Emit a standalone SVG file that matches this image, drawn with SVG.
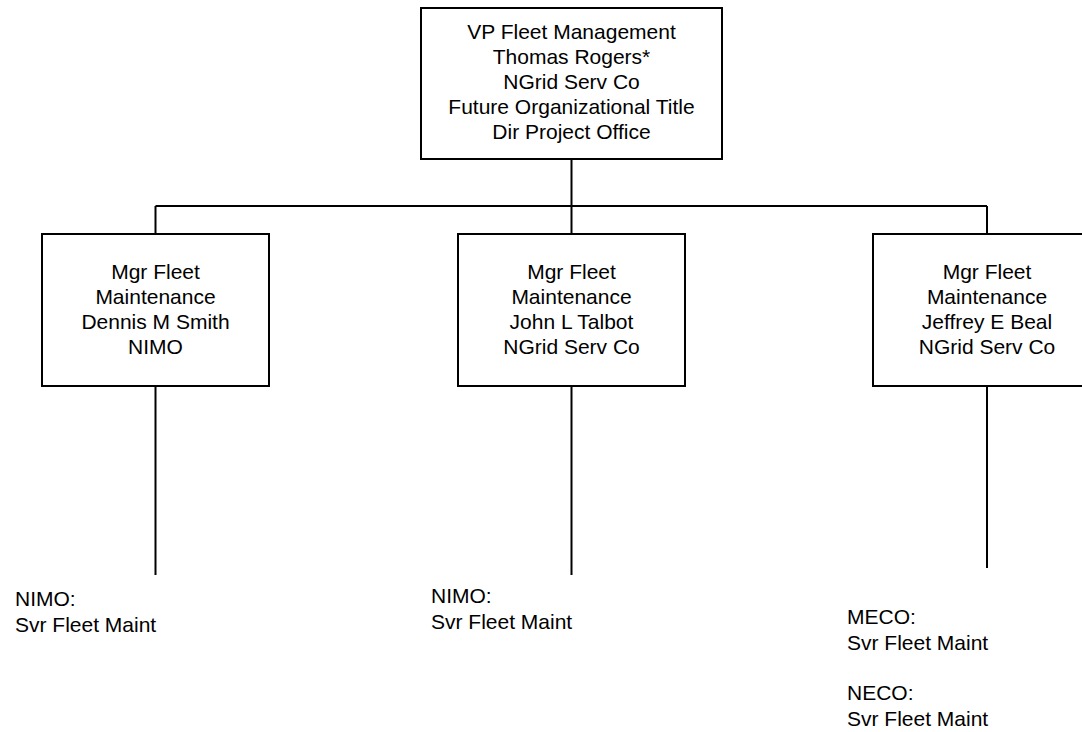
<svg xmlns="http://www.w3.org/2000/svg" width="1082" height="732" viewBox="0 0 1082 732">
<style>
.box{fill:#fff;stroke:#000;stroke-width:2}
.ln{stroke:#000;stroke-width:2;fill:none}
text{font-family:"Liberation Sans",Arial,sans-serif;font-size:21px;fill:#000}
.c{text-anchor:middle}
</style>
<rect width="1082" height="732" fill="#fff"/>
<g id="connectors">
<path class="ln" d="M571.5 159V206M155.5 206H987M155.5 206V234M571.5 206V234M987 206V234"/>
<path class="ln" d="M155.5 386V575M571.5 386V575M987 386V568"/>
</g>
<g id="vp">
<rect class="box" x="421" y="8" width="301" height="151"/>
<text class="c" x="571.5" y="39">VP Fleet Management</text>
<text class="c" x="571.5" y="64">Thomas Rogers*</text>
<text class="c" x="571.5" y="89">NGrid Serv Co</text>
<text class="c" x="571.5" y="114">Future Organizational Title</text>
<text class="c" x="571.5" y="139">Dir Project Office</text>
</g>
<g id="smith">
<rect class="box" x="42" y="234" width="227" height="152"/>
<text class="c" x="155.5" y="279">Mgr Fleet</text>
<text class="c" x="155.5" y="304">Maintenance</text>
<text class="c" x="155.5" y="329">Dennis M Smith</text>
<text class="c" x="155.5" y="354">NIMO</text>
</g>
<g id="talbot">
<rect class="box" x="458" y="234" width="227" height="152"/>
<text class="c" x="571.5" y="279">Mgr Fleet</text>
<text class="c" x="571.5" y="304">Maintenance</text>
<text class="c" x="571.5" y="329">John L Talbot</text>
<text class="c" x="571.5" y="354">NGrid Serv Co</text>
</g>
<g id="beal">
<rect class="box" x="873" y="234" width="227" height="152"/>
<text class="c" x="987" y="279">Mgr Fleet</text>
<text class="c" x="987" y="304">Maintenance</text>
<text class="c" x="987" y="329">Jeffrey E Beal</text>
<text class="c" x="987" y="354">NGrid Serv Co</text>
</g>
<g id="smith-notes">
<text x="15" y="606">NIMO:</text>
<text x="15" y="632">Svr Fleet Maint</text>
</g>
<g id="talbot-notes">
<text x="431" y="603">NIMO:</text>
<text x="431" y="629">Svr Fleet Maint</text>
</g>
<g id="beal-notes">
<text x="847" y="624">MECO:</text>
<text x="847" y="650">Svr Fleet Maint</text>
<text x="847" y="700">NECO:</text>
<text x="847" y="726">Svr Fleet Maint</text>
</g>
</svg>
